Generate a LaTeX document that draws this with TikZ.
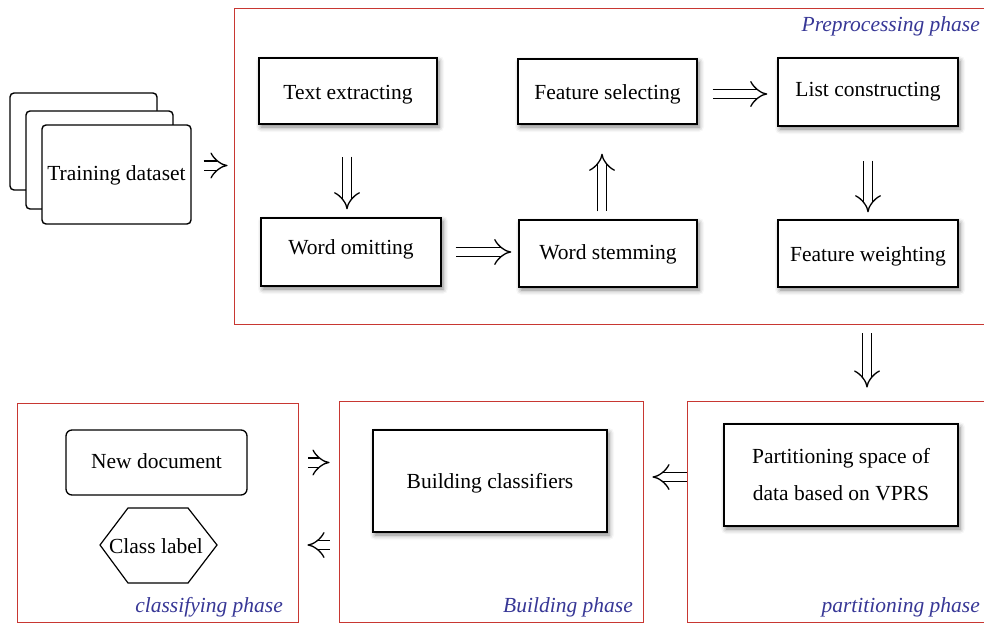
\documentclass[tikz,border=0pt]{standalone}
\usepackage{fontspec}
\setmainfont{Liberation Serif}
\usetikzlibrary{arrows.meta,shadows.blur,calc}
\definecolor{framered}{RGB}{200,55,50}
\definecolor{phaseblue}{RGB}{55,55,150}
\begin{document}
\begin{tikzpicture}[x=1pt,y=-1pt,
  every node/.style={font=\fontsize{21.5}{26}\selectfont},
  box/.style={draw, line width=1.4pt, fill=white, inner sep=0pt, align=center,
    blur shadow={shadow xshift=2pt, shadow yshift=-3pt, shadow blur radius=5pt, shadow opacity=50}},
  tb/.style={text depth=0pt, text height=#1},
  frame/.style={draw=framered, line width=0.9pt, inner sep=0pt},
  card/.style={draw, line width=1.4pt, fill=white, rounded corners=4pt, inner sep=0pt,
    minimum width=148pt, minimum height=98pt},
  phase/.style={text=phaseblue, font=\fontsize{21.5}{26}\selectfont\itshape, anchor=base east, inner sep=0pt},
  darr/.style={double, double distance=8pt, line width=1.3pt, -{Implies[width=26pt,length=12pt]}},
]
\useasboundingbox (0,0) rectangle (984,623);

% frames
\node[frame, minimum width=756pt, minimum height=316pt] (pre) at (612,166) {};
\node[frame, minimum width=281pt, minimum height=219pt] (cls) at (157.5,512.5) {};
\node[frame, minimum width=304pt, minimum height=221pt] (bld) at (491,511.5) {};
\node[frame, minimum width=303pt, minimum height=221pt] (par) at (838.5,511.5) {};

\node[phase] (prel) at (980,32) {Preprocessing phase};
\node[phase] (clsl) at (283,612) {classifying phase};
\node[phase] (bldl) at (633,612) {Building phase};
\node[phase] (parl) at (980,612) {partitioning phase};

% training dataset stack
\node[card, minimum width=147pt, minimum height=97pt] (td3) at (83.5,141.5) {};
\node[card, minimum width=147pt, minimum height=98pt] (td2) at (99.5,160) {};
\node[card, minimum width=149pt, minimum height=99pt, tb=11pt] (td1) at (116.5,174.5) {Training dataset};

% preprocessing boxes
\node[box, minimum width=178pt, minimum height=66pt, tb=18pt] (te) at (348,91) {Text extracting};
\node[box, minimum width=180pt, minimum height=68pt, tb=4pt] (wo) at (351,252) {Word omitting};
\node[box, minimum width=178pt, minimum height=67pt, tb=12pt] (ws) at (608,253.5) {Word stemming};
\node[box, minimum width=179pt, minimum height=65pt, tb=17pt] (fs) at (607.5,91.5) {Feature selecting};
\node[box, minimum width=180pt, minimum height=68pt, tb=9.4pt] (lc) at (868,92) {List constructing};
\node[box, minimum width=180pt, minimum height=67pt, tb=16pt] (fw) at (868,253.5) {Feature weighting};

% lower boxes
\node[box, minimum width=234pt, minimum height=102pt, tb=14pt] (bc) at (490,481) {Building classifiers};
\node[box, minimum width=234pt, minimum height=102pt, font=\fontsize{21.5}{37}\selectfont] (pt) at (841,475) {Partitioning space of\\data based on VPRS};
\node[draw, line width=1.3pt, rounded corners=6pt, inner sep=0pt, minimum width=181pt, minimum height=65pt, tb=11pt] (nd) at (156.5,462.5) {New document};
\node[inner sep=0pt, tb=16pt] (cl) at (156,545) {Class label};
\draw[line width=1.2pt] ($(cl)+(-56,0)$) -- ($(cl)+(-28,-37)$) -- ($(cl)+(32,-37)$)
  -- ($(cl)+(61,0)$) -- ($(cl)+(32,38)$) -- ($(cl)+(-28,38)$) -- cycle;

% arrows
\draw[darr, shorten <=12pt, shorten >=6pt] ($(td1.east)+(0,-9)$) -- ($(pre.west |- td1.east)+(0,-9)$);
\draw[darr, shorten <=32pt, shorten >=8pt] ($(te.south)+(-1,0)$) -- ($(te.south |- wo.north)+(-1,0)$);
\draw[darr, shorten <=14pt, shorten >=7pt] (wo.east) -- (wo.east -| ws.west);
\draw[darr, shorten <=8pt, shorten >=29pt] ($(ws.north)+(-6,0)$) -- ($(ws.north |- fs.south)+(-6,0)$);
\draw[darr, shorten <=15pt, shorten >=10pt] ($(fs.east)+(0,2.5)$) -- ($(fs.east -| lc.west)+(0,2.5)$);
\draw[darr, shorten <=34pt, shorten >=7pt] (lc.south) -- (fw.north);
\draw[darr, shorten <=9pt, shorten >=13pt] ($(pre.south -| fw.south)+(-1,0)$) -- ($(par.north -| fw.south)+(-1,0)$);
\draw[darr, shorten >=9pt] ($(par.west)+(0,-34.5)$) -- ($(bld.east)+(0,-34.5)$);
\draw[darr, shorten <=10pt, shorten >=9pt] (cls.east |- nd.east) -- (bld.west |- nd.east);
\draw[darr, shorten <=9pt, shorten >=9pt] (bld.west |- cl.east) -- (cls.east |- cl.east);
\end{tikzpicture}
\end{document}
